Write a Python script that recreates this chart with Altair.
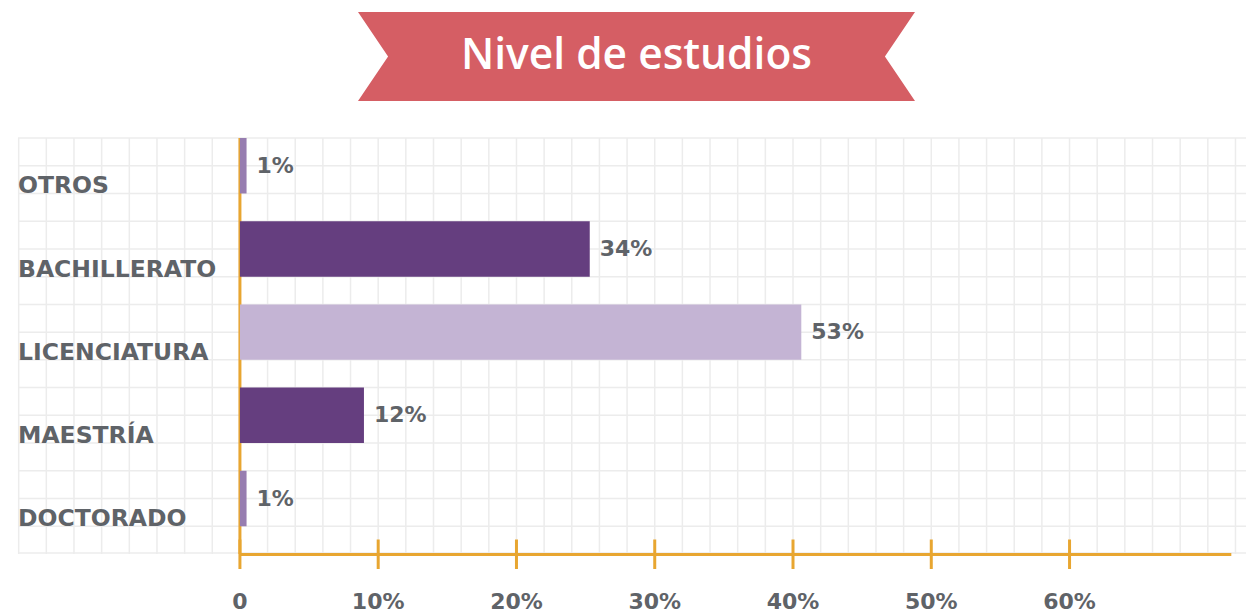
import altair as alt
import pandas as pd

# ---- data ----
categories = ["OTROS", "BACHILLERATO", "LICENCIATURA", "MAESTRÍA", "DOCTORADO"]
bar_lengths = [0.48, 25.3, 40.6, 8.97, 0.48]          # bar length as read on the x axis (%)
value_labels = ["1%", "34%", "53%", "12%", "1%"]      # printed labels
tick_values = [0, 10, 20, 30, 40, 50, 60]
tick_labels = ["0", "10%", "20%", "30%", "40%", "50%", "60%"]
title_text = "Nivel de estudios"

# ---- styles ----
bar_colors = ["#977db0", "#653e7f", "#c4b4d4", "#653e7f", "#977db0"]
ORANGE = "#e8a631"
GRAY = "#5f6368"
GRID = "#ececec"
RIBBON = "#d55e64"
FONT = "DejaVu Sans"
TITLE_FONT = "Open Sans"

W, H = 1228, 416
STEP = H / 5
PX_PER_PCT = 13.827
X_MIN = -16.05
X_MAX = X_MIN + W / PX_PER_PCT
AXIS_END = 71.7
xscale = alt.Scale(domain=[X_MIN, X_MAX], nice=False, zero=False)
yscale = alt.Scale(domain=categories, paddingInner=1 / 3, paddingOuter=0,
                   range=[0, 4 * STEP + STEP * 2 / 3])

bars_df = pd.DataFrame({"cat": categories, "val": bar_lengths, "lbl": value_labels,
                        "zero": [0] * len(categories)})
ticks_df = pd.DataFrame({"t": tick_values, "lbl": tick_labels})
axis_df = pd.DataFrame({"start": [0], "end": [AXIS_END], "lo": [X_MIN], "hi": [X_MAX]})
grid_v_df = pd.DataFrame({"v": list(range(-16, 74, 2))})

grid_v = alt.Chart(grid_v_df).mark_rule(color=GRID, strokeWidth=1.5).encode(
    x=alt.X("v:Q", scale=xscale, axis=None)
)
grid_h = [
    alt.Chart(bars_df).mark_rule(color=GRID, strokeWidth=1.5).encode(
        y=alt.Y("cat:N", scale=yscale, axis=None, sort=categories, bandPosition=p)
    )
    for p in (0, 0.5, 1)
]
grid_bottom = alt.Chart(axis_df).mark_rule(color=GRID, strokeWidth=1.5).encode(
    x=alt.X("lo:Q", scale=xscale, axis=None),
    x2="hi:Q",
    y=alt.value(H - 1),
)

axis_v = alt.Chart(axis_df).mark_rule(color=ORANGE, strokeWidth=3).encode(
    x=alt.X("start:Q", scale=xscale, axis=None)
)

bars = alt.Chart(bars_df).mark_bar().encode(
    y=alt.Y("cat:N", scale=yscale, axis=None, sort=categories),
    x=alt.X("val:Q", scale=xscale, axis=None),
    x2="zero:Q",
    color=alt.Color("cat:N", scale=alt.Scale(domain=categories, range=bar_colors), legend=None),
)

val_text = alt.Chart(bars_df).mark_text(
    align="left", baseline="middle", dx=10, dy=0, font=FONT, fontWeight="bold", fontSize=22, color=GRAY
).encode(
    y=alt.Y("cat:N", scale=yscale, axis=None, sort=categories),
    x=alt.X("val:Q", scale=xscale, axis=None),
    text="lbl:N",
)

cat_text = alt.Chart(bars_df).mark_text(
    align="left", baseline="alphabetic", font=FONT, fontWeight="bold", fontSize=23.5, color=GRAY
).encode(
    y=alt.Y("cat:N", scale=yscale, axis=None, sort=categories, bandPosition=1),
    x=alt.value(0),
    text="cat:N",
)

axis_h = alt.Chart(axis_df).mark_rule(color=ORANGE, strokeWidth=3).encode(
    x=alt.X("start:Q", scale=xscale, axis=None),
    x2="end:Q",
    y=alt.value(H + 0.5),
)

ticks = alt.Chart(ticks_df).mark_rule(color=ORANGE, strokeWidth=3).encode(
    x=alt.X("t:Q", scale=xscale, axis=None),
    y=alt.value(H - 14.5),
    y2=alt.value(H + 15),
)

tick_text = alt.Chart(ticks_df).mark_text(
    align="center", baseline="middle", font=FONT, fontWeight="bold", fontSize=22, color=GRAY
).encode(
    x=alt.X("t:Q", scale=xscale, axis=None),
    y=alt.value(H + 48),
    text="lbl:N",
)

ribbon_path = "M -1 -0.16 L 1 -0.16 L 0.892 0 L 1 0.16 L -1 0.16 L -0.892 0 Z"
title_df = pd.DataFrame({"t": [title_text]})
banner = alt.Chart(title_df).mark_point(
    shape=ribbon_path, filled=True, size=557 ** 2, color=RIBBON, opacity=1, strokeWidth=0
).encode(x=alt.value(618.5), y=alt.value(-81.5))
banner_text = alt.Chart(title_df).mark_text(
    align="center", baseline="middle", font=TITLE_FONT, fontWeight=600, fontSize=42.5, color="white"
).encode(x=alt.value(618.5), y=alt.value(-82.5), text="t:N")

chart = (
    alt.layer(grid_v, *grid_h, grid_bottom, axis_v, bars, val_text, cat_text, axis_h, ticks, tick_text,
              banner, banner_text)
    .properties(
        width=W,
        height=H,
        padding={"left": 10, "top": 130, "right": 0, "bottom": 62},
        autosize=alt.AutoSizeParams(type="none"),
        background="white",
    )
    .configure_view(stroke=None)
)

chart.save("out.html", embed_options={"renderer": "svg", "actions": False})
